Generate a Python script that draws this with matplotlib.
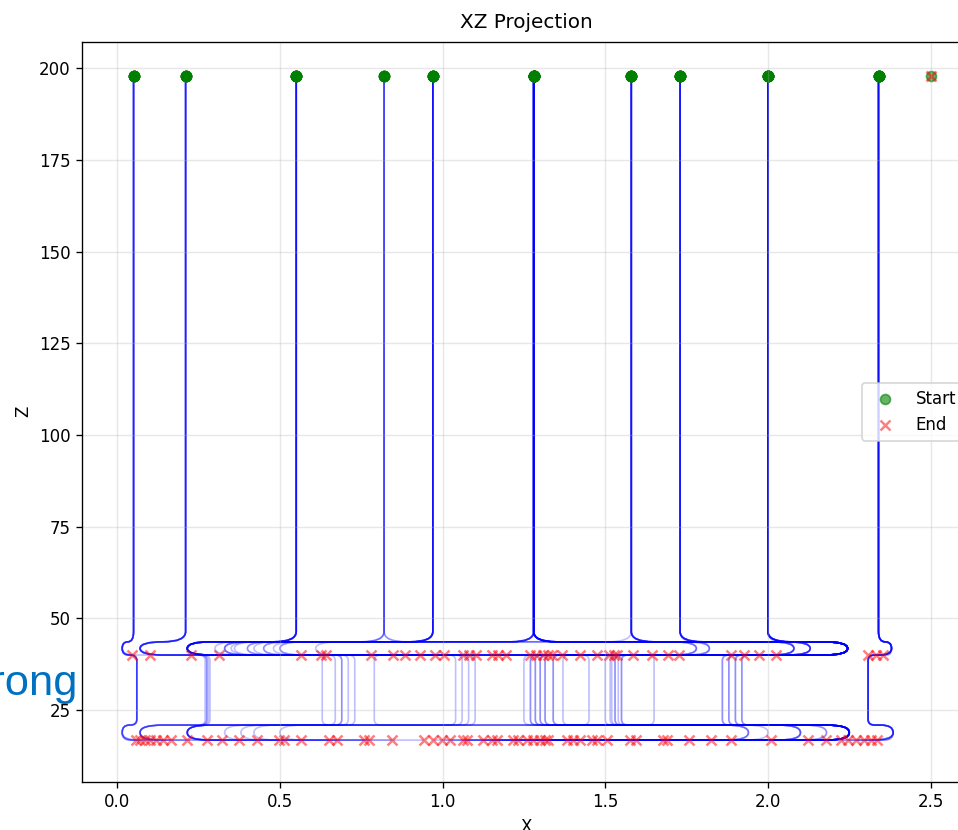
import matplotlib

matplotlib.use("Agg")
import matplotlib.pyplot as plt
import numpy as np
from matplotlib.patches import PathPatch
from matplotlib.path import Path

# z levels of the release height and of the two shelves (upper / lower arm each)
Z_START = 198.0
Z_UP_TOP, Z_UP_BOT = 43.6, 40.0
Z_LO_TOP, Z_LO_BOT = 20.9, 16.8

# particles that stop on the upper shelf: start x, turning x, end x
up_start = [0.05, 0.05, 0.21, 0.21,
            0.55, 0.55, 0.55, 0.55,
            0.82, 0.82, 0.82,
            0.97, 0.97, 0.97, 0.97, 0.97,
            1.28, 1.28, 1.28, 1.28, 1.28, 1.28, 1.28, 1.28, 1.28, 1.28,
            1.58, 1.58, 1.58, 1.58,
            1.73, 1.73, 1.73, 1.73,
            2.00, 2.00, 2.00, 2.00,
            2.34, 2.34, 2.34]
up_turn = [0.015, 0.015, 0.07, 0.07,
           0.215, 0.33, 0.215, 0.40,
           0.215, 0.45, 0.36,
           0.215, 0.50, 0.30, 0.61, 0.215,
           1.82, 2.245, 2.08, 2.245, 0.215, 0.42, 0.215, 0.48, 0.215, 0.35,
           2.245, 2.13, 1.78, 2.245,
           2.245, 2.08, 2.245, 1.82,
           2.245, 2.13, 2.245, 2.245,
           2.38, 2.38, 2.38]
up_end = [0.046, 0.102, 0.228, 0.312,
          0.565, 0.627, 0.642, 0.781,
          0.849, 0.883, 0.929,
          0.978, 1.003, 1.062, 1.080, 1.102,
          1.151, 1.170, 1.194, 1.269, 1.287, 1.309, 1.324, 1.336, 1.367, 1.423,
          1.475, 1.512, 1.528, 1.537,
          1.586, 1.645, 1.694, 1.728,
          1.886, 1.926, 1.972, 2.025,
          2.309, 2.333, 2.355]

# particles that fall through to the lower shelf:
# start x, turning x (upper), drop x, turning x (lower), end x
lo_start = [0.05, 0.05, 0.05, 0.05, 0.05,
            0.21, 0.21, 0.21, 0.21, 0.21,
            0.55, 0.55, 0.55, 0.55, 0.55,
            0.97, 0.97, 0.97, 0.97,
            1.28, 1.58, 0.82, 0.82,
            1.28, 1.28, 1.28, 1.28, 1.28, 1.28, 1.28,
            1.58, 1.58, 1.58, 1.58,
            2.00, 2.00, 2.00, 2.00,
            1.28, 1.28, 1.73, 1.73, 2.00, 2.00, 1.73, 1.28, 1.73, 2.00, 2.00, 1.28, 1.73,
            2.34, 2.34, 2.34, 2.34, 2.34, 2.34, 2.34]
lo_turn1 = [0.015, 0.015, 0.015, 0.015, 0.015,
            0.07, 0.07, 0.07, 0.07, 0.07,
            0.215, 0.33, 0.215, 0.40, 0.215,
            0.215, 0.45, 0.215, 0.33,
            0.215, 0.50, 1.78, 2.245,
            2.245, 2.08, 2.245, 2.13, 2.245, 1.82, 2.245,
            2.245, 2.13, 2.245, 1.78,
            2.245, 2.13, 2.245, 2.08,
            2.245, 2.245, 2.245, 2.08, 2.245, 2.245, 2.245, 2.13, 2.245, 2.245, 2.245, 2.245, 2.245,
            2.38, 2.38, 2.38, 2.38, 2.38, 2.38, 2.38]
lo_drop = [0.06, 0.06, 0.06, 0.06, 0.06,
           0.27, 0.275, 0.28, 0.285, 0.275,
           0.67, 0.69, 0.71, 0.73, 0.69,
           1.04, 1.06, 1.08, 1.10,
           1.45, 1.65, 0.63, 0.79,
           1.25, 1.27, 1.285, 1.30, 1.315, 1.34, 1.37,
           1.50, 1.515, 1.53, 1.55,
           1.86, 1.88, 1.90, 1.92,
           1.27, 1.30, 1.52, 1.54, 1.88, 1.90, 1.285, 1.315, 1.53, 1.86, 1.92, 1.34, 1.55,
           2.308, 2.308, 2.308, 2.308, 2.308, 2.308, 2.308]
lo_turn2 = [0.015, 0.015, 0.015, 0.015, 0.015,
            0.07, 0.07, 0.07, 0.07, 0.07,
            0.215, 0.215, 0.33, 0.215, 0.42,
            0.215, 0.50, 0.215, 0.38,
            0.215, 0.215, 1.94, 2.25,
            2.25, 2.10, 1.94, 2.25, 2.18, 2.25, 2.00,
            2.25, 2.10, 2.25, 1.94,
            2.25, 2.18, 2.25, 2.10,
            2.25, 2.25, 2.25, 2.25, 2.25, 2.10, 2.25, 2.25, 2.25, 2.25, 2.25, 2.25, 2.25,
            2.385, 2.385, 2.385, 2.385, 2.385, 2.385, 2.385]
lo_end = [0.059, 0.071, 0.086, 0.102, 0.120,
          0.142, 0.164, 0.213, 0.275, 0.321,
          0.373, 0.429, 0.497, 0.512, 0.565,
          0.651, 0.676, 0.759, 0.775,
          0.843, 0.944, 0.969, 0.997,
          1.022, 1.062, 1.074, 1.123, 1.151, 1.167, 1.216,
          1.231, 1.259, 1.278, 1.299,
          1.315, 1.324, 1.383, 1.401,
          1.423, 1.460, 1.475, 1.506, 1.577, 1.593, 1.679, 1.691, 1.756, 1.824, 1.886, 2.009, 2.123,
          2.179, 2.225, 2.247, 2.272, 2.296, 2.318, 2.336]

# particle that never left its release point
still_x = [2.5]
still_z = [198.0]

# corner rounding (x units, z units)
KNEE = (0.07, 2.8)
UTURN = (0.07, 2.0)
DROP = (0.02, 1.5)


def _offset(p, q, rx, rz):
    # point on segment p->q at rounding distance from p
    if p[0] == q[0]:
        d = min(rz, abs(q[1] - p[1]) / 2)
        return (p[0], p[1] + d * np.sign(q[1] - p[1]))
    d = min(rx, abs(q[0] - p[0]) / 2)
    return (p[0] + d * np.sign(q[0] - p[0]), p[1])


def rounded_path(pts, radii):
    verts = [pts[0]]
    codes = [Path.MOVETO]
    for i in range(1, len(pts) - 1):
        rx, rz = radii[i - 1]
        p_in = _offset(pts[i], pts[i - 1], rx, rz)
        p_out = _offset(pts[i], pts[i + 1], rx, rz)
        verts += [p_in, pts[i], p_out]
        codes += [Path.LINETO, Path.CURVE3, Path.CURVE3]
    verts.append(pts[-1])
    codes.append(Path.LINETO)
    return Path(verts, codes)


fig = plt.figure(figsize=(958 / 120, 830 / 120), dpi=120)
ax = fig.add_axes([82.3 / 958, 1 - 781.7 / 830, (970.9 - 82.3) / 958, (781.7 - 41.7) / 830])

line_kw = dict(fill=False, edgecolor="blue", alpha=0.25, lw=1.0)

for s, t, e in zip(up_start, up_turn, up_end):
    pts = [(s, Z_START), (s, Z_UP_TOP), (t, Z_UP_TOP), (t, Z_UP_BOT), (e, Z_UP_BOT)]
    ax.add_patch(PathPatch(rounded_path(pts, [KNEE, UTURN, UTURN]), **line_kw))

for s, t1, d, t2, e in zip(lo_start, lo_turn1, lo_drop, lo_turn2, lo_end):
    pts = [(s, Z_START), (s, Z_UP_TOP), (t1, Z_UP_TOP), (t1, Z_UP_BOT), (d, Z_UP_BOT),
           (d, Z_LO_TOP), (t2, Z_LO_TOP), (t2, Z_LO_BOT), (e, Z_LO_BOT)]
    ax.add_patch(PathPatch(rounded_path(pts, [KNEE, UTURN, UTURN, DROP, DROP, UTURN, UTURN]), **line_kw))

start_x = up_start + lo_start + still_x
start_z = [Z_START] * (len(up_start) + len(lo_start)) + still_z
end_x = up_end + lo_end + still_x
end_z = [Z_UP_BOT] * len(up_end) + [Z_LO_BOT] * len(lo_end) + still_z

ax.scatter(start_x, start_z, c="green", marker="o", alpha=0.6, label="Start")
ax.scatter(end_x, end_z, c="red", marker="x", alpha=0.5, label="End")

ax.set_xlim(-0.1076, 2.624)
ax.set_ylim(5.45, 207.3)
ax.set_title("XZ Projection", pad=8)
ax.set_xlabel("X")
ax.set_ylabel("Z")
ax.grid(True, alpha=0.3)
ax.legend(loc="center right")

fig.text(78 / 958, 1 - 695 / 830, "Wrong", ha="right", va="baseline", fontsize=26,
         color="#0070C0", family=["Liberation Sans", "DejaVu Sans"])

fig.savefig("out.png", dpi=120)
